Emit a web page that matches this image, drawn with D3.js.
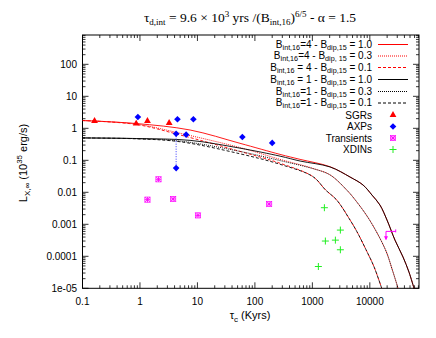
<!DOCTYPE html>
<html><head><meta charset="utf-8">
<script src="https://cdn.jsdelivr.net/npm/d3@7"></script>
<style>body{margin:0;background:#fff}svg{display:block}</style>
</head><body>
<svg id="c" width="436" height="338"></svg>
<script>
// ---------- data ----------
const xTicks = [0.1, 1, 10, 100, 1000, 10000];
const xTickLabels = ["0.1", "1", "10", "100", "1000", "10000"];
const yTicks = [1e-5, 1e-4, 1e-3, 1e-2, 0.1, 1, 10, 100];
const yTickLabels = ["1e-05", "0.0001", "0.001", "0.01", "0.1", "1", "10", "100"];

// model curves [tau_c (kyr), L]
const curveB4D10 = [[0.1,1.75],[0.86,1.41],[7.46,0.885],[55,0.34],[274,0.153],[611,0.107],[2030,0.063],[4530,0.030],[7620,0.0169],[10900,0.0082],[15000,0.0040],[19900,0.00136],[27400,3.2e-4],[37800,9.5e-5],[48000,3.2e-5],[58700,1e-5]];
const curveB4D03 = [[0.1,1.75],[0.86,1.36],[5,0.70],[55,0.25],[274,0.107],[1020,0.056],[2030,0.035],[3960,0.0118],[5600,0.0057],[9900,0.00136],[18700,1.6e-4],[24700,3.7e-5],[31000,1e-5]];
const curveB4D01 = [[0.1,1.75],[0.86,1.32],[5,0.62],[55,0.19],[274,0.081],[1020,0.031],[1700,0.0118],[2660,0.0057],[4530,0.00136],[5990,5.8e-4],[8590,1.6e-4],[11830,4.7e-5],[16100,1e-5]];
const curveB1D10 = [[0.1,0.50],[0.86,0.48],[7.46,0.42],[55,0.24],[274,0.135],[611,0.095],[2030,0.062],[4530,0.030],[7620,0.0169],[10900,0.0082],[15000,0.0040],[19900,0.00136],[27400,3.2e-4],[37800,9.5e-5],[48000,3.2e-5],[58700,1e-5]];
const curveB1D03 = [[0.1,0.50],[0.86,0.475],[5,0.40],[55,0.19],[274,0.098],[1020,0.055],[2030,0.035],[3960,0.0118],[5600,0.0057],[9900,0.00136],[18700,1.6e-4],[24700,3.7e-5],[31000,1e-5]];
const curveB1D01 = [[0.1,0.50],[0.86,0.47],[5,0.38],[55,0.16],[274,0.075],[1020,0.031],[1700,0.0118],[2660,0.0057],[4530,0.00136],[5990,5.8e-4],[8590,1.6e-4],[11830,4.7e-5],[16100,1e-5]];

// observed sources [tau_c, L]
const sgrs = [[0.162,1.69],[0.86,1.40],[1.35,1.69],[3.22,1.47]];
const axps = [[0.92,2.25],[4.49,1.91],[8.5,1.91],[4.26,0.68],[6.36,0.635],[4.26,0.057],[60.5,0.535],[200,0.35]];
const axpLink = [[4.26,0.68],[4.26,0.057]];
const transients = [[2.1,0.0255],[1.35,0.0059],[3.78,0.0062],[10.2,0.0019],[177,0.0043]];
const transientLimit = {x:19100, y:6.0e-4, xMax:28200, yMin:3.4e-4};
const xdins = [[1618,0.0033],[3070,6.6e-4],[1683,3.0e-4],[2515,3.2e-4],[3070,1.6e-4],[1272,4.8e-5]];

// ---------- drawing ----------
const svg = d3.select("#c");
const L = 82.5, R = 419, T = 35, B = 288.3;
const x = d3.scaleLog().domain([0.1, 71700]).range([L, R]);
const y = d3.scaleLog().domain([1e-5, 825]).range([B, T]);
const sans = "'Liberation Sans', Arial, sans-serif";
const serif = "'Liberation Serif', 'Times New Roman', serif";

svg.append("rect").attr("x", L).attr("y", T).attr("width", R - L).attr("height", B - T)
  .attr("fill", "none").attr("stroke", "#000").attr("stroke-width", 1);

const tg = svg.append("g").attr("stroke", "#000").attr("stroke-width", 0.8);
function minors(lo, hi) { const out = []; for (let e = lo; e < hi; e++) for (let k = 2; k <= 9; k++) out.push(k * Math.pow(10, e)); return out; }
const xMin = minors(-1, 5).filter(v => v < 71700);
const yMin = minors(-5, 3).filter(v => v < 825);
xTicks.forEach(v => { const px = x(v); tg.append("line").attr("x1", px).attr("x2", px).attr("y1", B).attr("y2", B - 6); tg.append("line").attr("x1", px).attr("x2", px).attr("y1", T).attr("y2", T + 6); });
xMin.forEach(v => { const px = x(v); tg.append("line").attr("x1", px).attr("x2", px).attr("y1", B).attr("y2", B - 3); tg.append("line").attr("x1", px).attr("x2", px).attr("y1", T).attr("y2", T + 3); });
yTicks.forEach(v => { const py = y(v); tg.append("line").attr("y1", py).attr("y2", py).attr("x1", L).attr("x2", L + 6); tg.append("line").attr("y1", py).attr("y2", py).attr("x1", R).attr("x2", R - 6); });
yMin.forEach(v => { const py = y(v); tg.append("line").attr("y1", py).attr("y2", py).attr("x1", L).attr("x2", L + 3); tg.append("line").attr("y1", py).attr("y2", py).attr("x1", R).attr("x2", R - 3); });

xTicks.forEach((v, i) => svg.append("text").attr("x", x(v)).attr("y", 305).attr("text-anchor", "middle")
  .attr("font-family", sans).attr("font-size", 10).text(xTickLabels[i]));
yTicks.forEach((v, i) => svg.append("text").attr("x", 77).attr("y", y(v) + 3.5).attr("text-anchor", "end")
  .attr("font-family", sans).attr("font-size", 10).text(yTickLabels[i]));

const xl = svg.append("text").attr("x", 250).attr("y", 319).attr("text-anchor", "middle").attr("font-family", sans).attr("font-size", 11);
xl.append("tspan").text("τ");
xl.append("tspan").attr("font-size", 8).attr("dy", 3).text("c");
xl.append("tspan").attr("dy", -3).text(" (Kyrs)");
const yl = svg.append("text").attr("transform", "translate(27,163) rotate(-90)").attr("text-anchor", "middle").attr("font-family", sans).attr("font-size", 11);
yl.append("tspan").text("L");
yl.append("tspan").attr("font-size", 8).attr("dy", 3).text("X,∞");
yl.append("tspan").attr("dy", -3).text(" (10");
yl.append("tspan").attr("font-size", 8).attr("dy", -5).text("35");
yl.append("tspan").attr("dy", 5).text(" erg/s)");

const ti = svg.append("text").attr("x", 250).attr("y", 22).attr("text-anchor", "middle").attr("font-family", serif).attr("font-size", 13.5);
ti.append("tspan").text("τ");
ti.append("tspan").attr("font-size", 9).attr("dy", 3).text("d,int");
ti.append("tspan").attr("dy", -3).text(" = 9.6 × 10");
ti.append("tspan").attr("font-size", 9).attr("dy", -5).text("3");
ti.append("tspan").attr("dy", 5).text(" yrs /(B");
ti.append("tspan").attr("font-size", 9).attr("dy", 3).text("int,16");
ti.append("tspan").attr("dy", -3).text(")");
ti.append("tspan").attr("font-size", 9).attr("dy", -5).text("6/5");
ti.append("tspan").attr("dy", 5).text("  -   α = 1.5");

const line = d3.line().x(d => x(d[0])).y(d => y(d[1])).curve(d3.curveCatmullRom.alpha(0.5));
const curves = [
  {d: curveB4D10, c: "#ff0000", dash: null, lab: ["int,16", "=4 - B", "dip,15", " = 1.0"]},
  {d: curveB4D03, c: "#ff0000", dash: "1,1", lab: ["int,16", "=4 - B", "dip, 15", " = 0.3"]},
  {d: curveB4D01, c: "#ff0000", dash: "3,2", lab: ["int,16", " = 4 - B", "dip,15", " = 0.1"]},
  {d: curveB1D10, c: "#000000", dash: null, lab: ["int,16", " = 1 - B", "dip,15", " = 1.0"]},
  {d: curveB1D03, c: "#000000", dash: "1,1", lab: ["int,16", "=1 - B", "dip,15", " = 0.3"]},
  {d: curveB1D01, c: "#000000", dash: "3,2", lab: ["int,16", "=1 - B", "dip,15", " = 0.1"]}
];
svg.append("clipPath").attr("id", "pc").append("rect").attr("x", L).attr("y", T).attr("width", R - L).attr("height", B - T);
const cg = svg.append("g").attr("clip-path", "url(#pc)");
curves.forEach(cv => cg.append("path").attr("d", line(cv.d)).attr("fill", "none").attr("stroke", cv.c)
  .attr("stroke-width", 0.9).attr("stroke-dasharray", cv.dash));

const pg = svg.append("g");
pg.append("line").attr("x1", x(axpLink[0][0])).attr("x2", x(axpLink[1][0])).attr("y1", y(axpLink[0][1])).attr("y2", y(axpLink[1][1]))
  .attr("stroke", "#0000ff").attr("stroke-width", 0.8).attr("stroke-dasharray", "1,1.5");
const tri = d3.symbol().type(d3.symbolTriangle).size(20);
function drawTri(g, px, py) { g.append("path").attr("d", tri()).attr("transform", `translate(${px},${py})`).attr("fill", "#ff0000"); }
function drawDia(g, px, py) { const s = 3.3; g.append("path").attr("d", `M${px},${py - s}L${px + s},${py}L${px},${py + s}L${px - s},${py}Z`).attr("fill", "#0000ff"); }
function drawStar(g, px, py) { const s = 2.6; const gg = g.append("g").attr("stroke", "#ff00ff").attr("stroke-width", 0.9).attr("fill", "none");
  gg.append("path").attr("d", `M${px - s},${py}H${px + s}M${px},${py - s}V${py + s}M${px - s},${py - s}L${px + s},${py + s}M${px - s},${py + s}L${px + s},${py - s}`);
  gg.append("rect").attr("x", px - s).attr("y", py - s).attr("width", 2 * s).attr("height", 2 * s).attr("stroke-width", 0.7); }
function drawPlus(g, px, py) { const s = 3.5; g.append("path").attr("d", `M${px - s},${py}H${px + s}M${px},${py - s}V${py + s}`).attr("stroke", "#22ee22").attr("stroke-width", 1); }
sgrs.forEach(d => drawTri(pg, x(d[0]), y(d[1])));
axps.forEach(d => drawDia(pg, x(d[0]), y(d[1])));
transients.forEach(d => drawStar(pg, x(d[0]), y(d[1])));
xdins.forEach(d => drawPlus(pg, x(d[0]), y(d[1])));
{
  const px = x(transientLimit.x), py = y(transientLimit.y), px2 = x(transientLimit.xMax), py2 = y(transientLimit.yMin);
  pg.append("path").attr("d", `M${px},${py}H${px2}M${px2},${py - 2}V${py + 1}M${px},${py}V${py2}`).attr("stroke", "#ff00ff").attr("stroke-width", 1).attr("fill", "none");
  pg.append("path").attr("d", `M${px - 2},${py2 - 3}L${px + 2},${py2 - 3}L${px},${py2 + 1}Z`).attr("fill", "#ff00ff");
}

const lg = svg.append("g").attr("font-family", sans).attr("font-size", 10);
const rowY = [44.5, 56, 67.5, 79.5, 91.5, 103, 115, 126.5, 138, 149.5];
curves.forEach((cv, i) => {
  const t = lg.append("text").attr("x", 372).attr("y", rowY[i] + 3).attr("text-anchor", "end");
  t.append("tspan").text("B");
  t.append("tspan").attr("font-size", 7.2).attr("dy", 2).text(cv.lab[0]);
  t.append("tspan").attr("dy", -2).text(cv.lab[1]);
  t.append("tspan").attr("font-size", 7.2).attr("dy", 2).text(cv.lab[2]);
  t.append("tspan").attr("dy", -2).text(cv.lab[3]);
  lg.append("line").attr("x1", 378).attr("x2", 408).attr("y1", rowY[i]).attr("y2", rowY[i])
    .attr("stroke", cv.c).attr("stroke-width", 1).attr("stroke-dasharray", cv.dash);
});
const ptNames = ["SGRs", "AXPs", "Transients", "XDINs"];
const ptDraw = [drawTri, drawDia, drawStar, drawPlus];
ptNames.forEach((n, i) => {
  const yy = rowY[6 + i];
  lg.append("text").attr("x", 372).attr("y", yy + 3.5).attr("text-anchor", "end").text(n);
  ptDraw[i](lg, 393, yy);
});
</script>
</body></html>
